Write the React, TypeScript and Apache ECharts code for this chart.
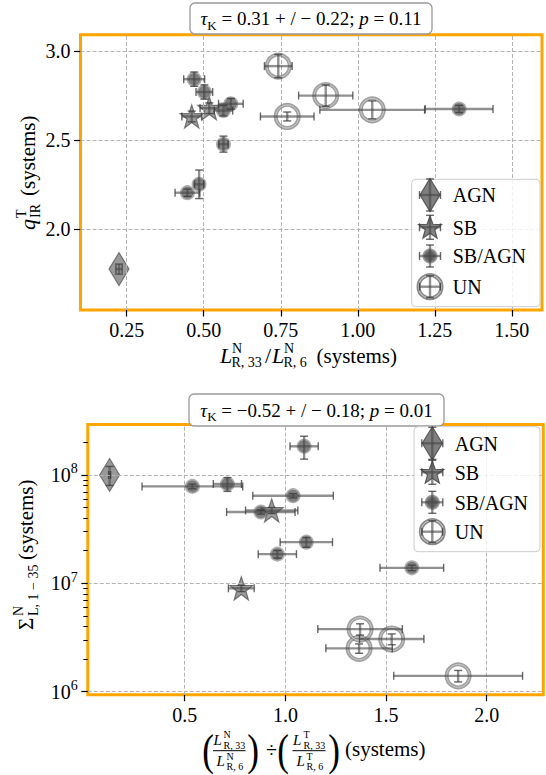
import React, { useEffect, useRef } from 'react';
import * as echarts from 'echarts';

const FONT = "'Liberation Serif', 'Times New Roman', serif";

// ---------- Top panel: L_R33/L_R6 (x) vs q_IR (y) ----------
const topXTicks = [0.25, 0.5, 0.75, 1.0, 1.25, 1.5];
const topYTicks = [2.0, 2.5, 3.0];
// rows: [x, y, xErr, yErr]
const topAGN = [[0.225, 1.777, 0.01, 0.028]];
const topSB = [
  [0.518, 2.678, 0.03, 0.03],
  [0.461, 2.632, 0.032, 0.03],
];
const topSBAGN = [
  [0.469, 2.841, 0.034, 0.04],
  [0.502, 2.769, 0.027, 0.04],
  [0.588, 2.703, 0.04, 0.03],
  [0.564, 2.665, 0.03, 0.03],
  [0.564, 2.477, 0.015, 0.045],
  [0.485, 2.252, 0.015, 0.08],
  [0.447, 2.205, 0.04, 0.02],
  [1.329, 2.674, 0.11, 0.02],
];
const topUN = [
  [0.742, 2.914, 0.045, 0.065],
  [0.896, 2.749, 0.088, 0.06],
  [1.047, 2.669, 0.17, 0.05],
  [0.771, 2.632, 0.087, 0.025],
];

// ---------- Bottom panel: ratio (x) vs Sigma (y, log) ----------
const botXTicks = [0.5, 1.0, 1.5, 2.0];
const botYTicks = [1e6, 1e7, 1e8];
const botYMinorTicks = [
  2e6, 3e6, 4e6, 5e6, 6e6, 7e6, 8e6, 9e6,
  2e7, 3e7, 4e7, 5e7, 6e7, 7e7, 8e7, 9e7,
  2e8,
];
const botAGN = [[0.127, 1.0e8, 0.005, 0.2e8]];
const botSB = [
  [0.932, 4.71e7, 0.13, 0.3e7],
  [0.781, 8.99e6, 0.064, 0.6e6],
];
const botSBAGN = [
  [1.093, 1.84e8, 0.07, 0.44e8],
  [0.538, 7.85e7, 0.25, 0.4e7],
  [0.712, 8.26e7, 0.07, 1.2e7],
  [1.038, 6.44e7, 0.2, 0.3e7],
  [0.878, 4.55e7, 0.17, 0.2e7],
  [1.104, 2.40e7, 0.13, 0.25e7],
  [0.960, 1.86e7, 0.095, 0.15e7],
  [1.628, 1.39e7, 0.158, 0.08e7],
];
const botUN = [
  [1.371, 3.78e6, 0.21, 0.45e6],
  [1.528, 3.06e6, 0.16, 0.35e6],
  [1.366, 2.51e6, 0.165, 0.25e6],
  [1.858, 1.40e6, 0.32, 0.17e6],
];

const legendNames = ['AGN', 'SB', 'SB/AGN', 'UN'];

const STAR =
  'path://M50,2 L61.8,35.4 L97.6,35.4 L68.9,56.6 L79.4,90.5 L50,70 L20.6,90.5 L31.1,56.6 L2.4,35.4 L38.2,35.4 Z';

const ST_AGN = { color: 'rgba(105,105,105,0.85)', borderColor: 'rgba(80,80,80,0.9)', borderWidth: 1.2 };
const ST_SB = { color: 'rgba(100,100,100,0.8)', borderColor: 'rgba(70,70,70,0.85)', borderWidth: 1.2 };
const ST_SBAGN = { color: 'rgba(60,60,60,0.8)', borderColor: 'rgba(120,120,120,0.75)', borderWidth: 3 };
const ST_UN = { color: 'rgba(255,255,255,0)', borderColor: 'rgba(115,115,115,0.85)', borderWidth: 4 };
const ST_UN_IN = { color: 'rgba(255,255,255,0)', borderColor: 'rgba(215,215,215,0.9)', borderWidth: 1 };

const BAR = { stroke: 'rgba(70,70,70,0.6)', lineWidth: 2.4 };
const CAPST = { stroke: 'rgba(55,55,55,0.75)', lineWidth: 1.4 };
const CAP = 4;

function errRender(params: any, api: any) {
  const x = api.value(0);
  const y = api.value(1);
  const xe = api.value(2);
  const ye = api.value(3);
  const l = api.coord([x - xe, y]);
  const r = api.coord([x + xe, y]);
  const b = api.coord([x, y - ye]);
  const t = api.coord([x, y + ye]);
  const ln = (x1: number, y1: number, x2: number, y2: number, st: any) => ({
    type: 'line',
    shape: { x1, y1, x2, y2 },
    style: st,
  });
  return {
    type: 'group',
    children: [
      ln(l[0], l[1], r[0], r[1], BAR),
      ln(b[0], b[1], t[0], t[1], BAR),
      ln(l[0], l[1] - CAP, l[0], l[1] + CAP, CAPST),
      ln(r[0], r[1] - CAP, r[0], r[1] + CAP, CAPST),
      ln(b[0] - CAP, b[1], b[0] + CAP, b[1], CAPST),
      ln(t[0] - CAP, t[1], t[0] + CAP, t[1], CAPST),
    ],
  };
}

const pts = (a: number[][]) => a.map((d) => [d[0], d[1]]);

function panelSeries(idx: number, xTicks: number[], yTicks: number[], sets: number[][][]) {
  const [agn, sb, sbagn, un] = sets;
  const ax = { xAxisIndex: idx, yAxisIndex: idx };
  const errs = (name: string, d: number[][], z: number) => ({
    ...ax,
    type: 'custom',
    name,
    data: d,
    encode: { x: 0, y: 1 },
    renderItem: errRender,
    silent: true,
    z,
  });
  return [
    {
      ...ax,
      type: 'scatter',
      data: [],
      silent: true,
      z: 1,
      markLine: {
        silent: true,
        animation: false,
        symbol: ['none', 'none'],
        label: { show: false },
        lineStyle: { color: '#b3b3b3', type: [4, 2], width: 1 },
        emphasis: { disabled: true },
        data: [...xTicks.map((v) => ({ xAxis: v })), ...yTicks.map((v) => ({ yAxis: v }))],
      },
    },
    { ...ax, type: 'scatter', name: 'AGN', data: pts(agn), symbol: 'diamond', symbolSize: [20, 33], itemStyle: ST_AGN, silent: true, z: 2 },
    errs('AGN', agn, 3),
    { ...ax, type: 'scatter', name: 'SB', data: pts(sb), symbol: STAR, symbolSize: 23, itemStyle: ST_SB, silent: true, z: 4 },
    errs('SB', sb, 5),
    { ...ax, type: 'scatter', name: 'SB/AGN', data: pts(sbagn), symbol: 'circle', symbolSize: 12, itemStyle: ST_SBAGN, silent: true, z: 6 },
    errs('SB/AGN', sbagn, 7),
    { ...ax, type: 'scatter', name: 'UN', data: pts(un), symbol: 'circle', symbolSize: 23, itemStyle: ST_UN, silent: true, z: 8 },
    { ...ax, type: 'scatter', name: 'UN', data: pts(un), symbol: 'circle', symbolSize: 23, itemStyle: ST_UN_IN, silent: true, z: 9 },
    errs('UN', un, 10),
  ];
}

// ---------- graphic helpers ----------
function txt(x: number, base: number, text: string, size: number, italic = false, align = 'left') {
  return {
    type: 'text',
    x,
    y: base - 0.34 * size,
    z: 50,
    style: {
      text,
      fontSize: size,
      fontFamily: FONT,
      fontStyle: italic ? 'italic' : 'normal',
      fill: '#000',
      align,
      verticalAlign: 'middle',
    },
  };
}

function gline(x1: number, y1: number, x2: number, y2: number, st: any) {
  return { type: 'line', z: 52, shape: { x1, y1, x2, y2 }, style: st };
}

function cross(cx: number, cy: number, hw: number, hh: number) {
  return [
    gline(cx - hw, cy, cx + hw, cy, BAR),
    gline(cx, cy - hh, cx, cy + hh, BAR),
    gline(cx - hw, cy - CAP, cx - hw, cy + CAP, CAPST),
    gline(cx + hw, cy - CAP, cx + hw, cy + CAP, CAPST),
    gline(cx - CAP, cy - hh, cx + CAP, cy - hh, CAPST),
    gline(cx - CAP, cy + hh, cx + CAP, cy + hh, CAPST),
  ];
}

function starPoints(cx: number, cy: number, R: number, r: number) {
  const p: number[][] = [];
  for (let i = 0; i < 10; i++) {
    const a = -Math.PI / 2 + (i * Math.PI) / 5;
    const rad = i % 2 === 0 ? R : r;
    p.push([cx + rad * Math.cos(a), cy + rad * Math.sin(a)]);
  }
  return p;
}

function legendBlock(x: number, y: number, w: number, h: number, mx: number, tx: number, ys: number[]) {
  const els: any[] = [
    {
      type: 'rect',
      z: 49,
      shape: { x, y, width: w, height: h, r: 4 },
      style: { fill: 'rgba(255,255,255,0.8)', stroke: '#cccccc', lineWidth: 1 },
    },
    {
      type: 'polygon',
      z: 51,
      shape: { points: [[mx, ys[0] - 16.5], [mx + 10, ys[0]], [mx, ys[0] + 16.5], [mx - 10, ys[0]]] },
      style: { fill: ST_AGN.color, stroke: ST_AGN.borderColor, lineWidth: 1.2 },
    },
    ...cross(mx, ys[0], 10.5, 16),
    {
      type: 'polygon',
      z: 51,
      shape: { points: starPoints(mx, ys[1] + 1, 12, 5) },
      style: { fill: ST_SB.color, stroke: ST_SB.borderColor, lineWidth: 1.2 },
    },
    ...cross(mx, ys[1], 10.5, 12),
    {
      type: 'circle',
      z: 51,
      shape: { cx: mx, cy: ys[2], r: 6 },
      style: { fill: ST_SBAGN.color, stroke: ST_SBAGN.borderColor, lineWidth: 3 },
    },
    ...cross(mx, ys[2], 10.5, 11),
    {
      type: 'circle',
      z: 51,
      shape: { cx: mx, cy: ys[3], r: 11.5 },
      style: { fill: 'none', stroke: ST_UN.borderColor, lineWidth: 4 },
    },
    {
      type: 'circle',
      z: 51,
      shape: { cx: mx, cy: ys[3], r: 11.5 },
      style: { fill: 'none', stroke: ST_UN_IN.borderColor, lineWidth: 1 },
    },
    ...cross(mx, ys[3], 10.5, 11),
  ];
  legendNames.forEach((n, i) => els.push(txt(tx, ys[i] + 7, n, 20)));
  return els;
}

function titleText(cx: number, cy: number, parts: string) {
  return {
    type: 'text',
    z: 50,
    x: cx,
    y: cy,
    style: {
      text: parts,
      fontFamily: FONT,
      fontSize: 19,
      fill: '#000',
      align: 'center',
      verticalAlign: 'middle',
      rich: {
        n: { fontFamily: FONT, fontSize: 19, lineHeight: 26 },
        i: { fontFamily: FONT, fontSize: 19, fontStyle: 'italic', lineHeight: 26 },
        sub: { fontFamily: FONT, fontSize: 13, lineHeight: 13, verticalAlign: 'bottom' },
      },
    },
  };
}

function titleRect(x: number, y: number, w: number, h: number) {
  return {
    type: 'rect',
    z: 49,
    shape: { x, y, width: w, height: h, r: 5 },
    style: { fill: '#fff', stroke: '#999999', lineWidth: 1.3 },
  };
}

function rotGroup(x: number, y: number, children: any[]) {
  return { type: 'group', x, y, rotation: Math.PI / 2, z: 50, children };
}

function paren(x: number, ch: string) {
  return {
    type: 'text', z: 50, x, y: 750, scaleX: 0.8,
    style: { text: ch, fontFamily: FONT, fontSize: 44, fill: '#000', align: 'center', verticalAlign: 'middle' },
  };
}

export default function App() {
  const ref = useRef<HTMLDivElement>(null);
  useEffect(() => {
    if (!ref.current) return;
    const chart = echarts.init(ref.current, undefined, { renderer: 'svg' });

    const tickStyle = { color: '#000', width: 1.2 };
    const lblBase = { fontFamily: FONT, fontSize: 20, color: '#000' };

    const graphic: any[] = [
      // titles
      titleRect(190, 3, 242, 31),
      titleText(311, 18.5, '{i|τ}{sub|K}{n| = 0.31 + / − 0.22; }{i|p}{n| = 0.11}'),
      titleRect(189, 394, 255, 32),
      titleText(316.5, 410, '{i|τ}{sub|K}{n| = −0.52 + / − 0.18; }{i|p}{n| = 0.01}'),
      // legends
      ...legendBlock(411.7, 179.3, 128.3, 127.4, 430, 452.7, [195, 227.3, 256, 286.7]),
      ...legendBlock(414, 426.7, 126, 125, 432.3, 454.7, [443.3, 472.3, 502.3, 531.7]),
      // top x label: L^N_{R,33}/L^N_{R,6} (systems)
      txt(220, 363, 'L', 22, true),
      txt(232, 353, 'N', 14),
      txt(231.5, 367.5, 'R, 33', 14),
      txt(265, 363, '/', 22),
      txt(272, 363, 'L', 22, true),
      txt(284, 353, 'N', 14),
      txt(283.5, 367.5, 'R, 6', 14),
      txt(316.5, 363, '(systems)', 21),
      // top y label: q^T_IR (systems)
      rotGroup(35, 230, [
        txt(0, 0, 'q', 22, true),
        txt(12, -9, 'T', 14),
        txt(12, 5, 'IR', 14),
        txt(34, 0, '(systems)', 21),
      ]),
      // bottom y label: Sigma^N_{L,1-35} (systems)
      rotGroup(33, 630, [
        txt(0, 0, 'Σ', 21),
        txt(14, -10, 'N', 14),
        txt(14, 5, 'L, 1 − 35', 14),
        txt(70, 0, '(systems)', 21),
      ]),
      // bottom x label: (L^N_{R,33}/L^N_{R,6}) ÷ (L^T_{R,33}/L^T_{R,6}) (systems)
      paren(208, '('),
      txt(213.5, 745, 'L', 15, true),
      txt(223.5, 737.5, 'N', 10),
      txt(223.5, 748.5, 'R, 33', 10),
      gline(213, 750.7, 245.5, 750.7, { stroke: '#000', lineWidth: 1 }),
      txt(216.5, 766, 'L', 15, true),
      txt(226.5, 760, 'N', 10),
      txt(226.5, 770, 'R, 6', 10),
      paren(253, ')'),
      txt(271.5, 757, '÷', 20, false, 'center'),
      paren(283, '('),
      txt(293, 745, 'L', 15, true),
      txt(303.5, 737.5, 'T', 10),
      txt(303.5, 748.5, 'R, 33', 10),
      gline(292.5, 750.7, 325.5, 750.7, { stroke: '#000', lineWidth: 1 }),
      txt(296.5, 766, 'L', 15, true),
      txt(306.5, 760, 'T', 10),
      txt(306.5, 770, 'R, 6', 10),
      paren(334, ')'),
      txt(345, 756, '(systems)', 21),
    ];

    const option: any = {
      animation: false,
      backgroundColor: '#ffffff',
      grid: [
        {
          left: 80.5, top: 34.7, width: 461.5, height: 275.3,
          show: true, borderColor: '#FFA500', borderWidth: 3, backgroundColor: '#ffffff', containLabel: false,
        },
        {
          left: 87.8, top: 424.5, width: 455.5, height: 270.2,
          show: true, borderColor: '#FFA500', borderWidth: 3, backgroundColor: '#ffffff', containLabel: false,
        },
      ],
      xAxis: [
        {
          type: 'value', gridIndex: 0, min: 0.1, max: 1.598, position: 'bottom',
          axisLine: { show: false }, splitLine: { show: false },
          axisTick: { show: true, customValues: topXTicks, length: 6.5, lineStyle: tickStyle },
          axisLabel: { ...lblBase, customValues: topXTicks, margin: 10, formatter: (v: number) => v.toFixed(2) },
        },
        {
          type: 'value', gridIndex: 1, min: 0.0186, max: 2.281, position: 'bottom',
          axisLine: { show: false }, splitLine: { show: false },
          axisTick: { show: true, customValues: botXTicks, length: 6.5, lineStyle: tickStyle },
          axisLabel: { ...lblBase, customValues: botXTicks, margin: 10, formatter: (v: number) => v.toFixed(1) },
        },
      ],
      yAxis: [
        {
          type: 'value', gridIndex: 0, min: 1.548, max: 3.09, position: 'left',
          axisLine: { show: false }, splitLine: { show: false },
          axisTick: { show: true, customValues: topYTicks, length: 6.5, lineStyle: tickStyle },
          axisLabel: { ...lblBase, customValues: topYTicks, margin: 10, formatter: (v: number) => v.toFixed(1) },
        },
        {
          type: 'log', logBase: 10, gridIndex: 1, min: Math.pow(10, 5.972), max: Math.pow(10, 8.466), position: 'left',
          axisLine: { show: false }, splitLine: { show: false },
          axisTick: { show: true, customValues: botYTicks, length: 6.5, lineStyle: tickStyle },
          axisLabel: {
            ...lblBase,
            customValues: botYTicks,
            margin: 10,
            formatter: (v: number) => `{b|10}{s|${Math.round(Math.log10(v))}}`,
            rich: {
              b: { fontFamily: FONT, fontSize: 20, color: '#000', lineHeight: 26 },
              s: { fontFamily: FONT, fontSize: 14, color: '#000', lineHeight: 14, verticalAlign: 'top' },
            },
          },
        },
        {
          type: 'log', logBase: 10, gridIndex: 1, min: Math.pow(10, 5.972), max: Math.pow(10, 8.466),
          position: 'left', offset: 0,
          axisLine: { show: false }, splitLine: { show: false },
          axisTick: { show: true, customValues: botYMinorTicks, length: 4.5, lineStyle: { color: '#000', width: 1 } },
          axisLabel: { show: false },
        },
      ],
      series: [
        ...panelSeries(0, topXTicks, topYTicks, [topAGN, topSB, topSBAGN, topUN]),
        ...panelSeries(1, botXTicks, botYTicks, [botAGN, botSB, botSBAGN, botUN]),
      ],
      graphic,
    };

    chart.setOption(option);
    return () => chart.dispose();
  }, []);

  return (
    <div
      ref={ref}
      style={{ position: 'absolute', left: 0, top: 0, width: 546, height: 775, background: '#fff' }}
    />
  );
}
